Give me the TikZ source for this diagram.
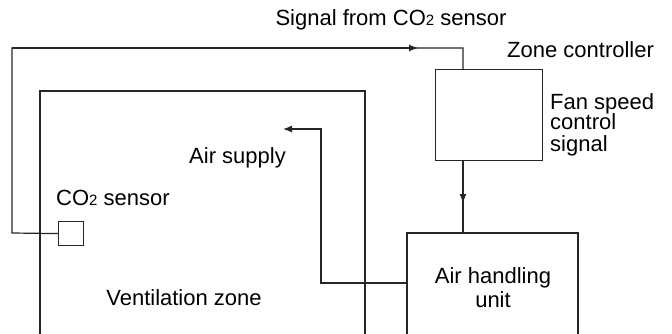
\documentclass[tikz,border=0pt]{standalone}
\usepackage{fontspec}
\setmainfont{Liberation Sans}
\usetikzlibrary{arrows.meta}
\newcommand{\cotwo}{CO{\fontsize{15}{15}\selectfont 2}}
\begin{document}
\begin{tikzpicture}[x=1pt,y=-1pt,
  line/.style={draw=black!85, line width=1.2pt},
  arr/.style={line, -{Latex[length=9pt,width=7pt]}},
  lbl/.style={inner sep=0pt, font=\fontsize{22}{21}\selectfont},
  box/.style={draw=black!85, line width=1.2pt, inner sep=0pt, fill=none}]
\useasboundingbox (0,0) rectangle (672,334);
% boxes
\draw[line] (40,334) |- (365,91) -- (365,334);
\node[box, minimum width=107pt, minimum height=91pt, anchor=north west] (zc) at (435,69) {};
\draw[line] (407,334) |- (578,233) -- (578,334);
\coordinate (ahuT) at (463,233);
\coordinate (ahuL) at (407,283);
\node[box, minimum width=25pt, minimum height=24pt, anchor=north west] (sen) at (58,221) {};
% signal loop
\coordinate (c1) at (12,233);
\coordinate (c2) at (12,48);
\coordinate (c3) at (463,48);
\coordinate (am) at (418,48);
\draw[line] (sen.west) -- (c1) -- (c2) -- (c3) -- (zc.north -| c3);
\draw[arr] (c2) -- (am);
% controller to AHU
\draw[line] (zc.south -| ahuT) -- (ahuT);
\draw[arr] (zc.south -| ahuT) -- (463,203);
% air supply
\coordinate (a1) at (321,283);
\coordinate (a2) at (321,129);
\coordinate (a3) at (283,129);
\draw[arr] (ahuL) -- (a1) -- (a2) -- (a3);
% labels
\node[lbl, anchor=base] (t1) at (391,26) {Signal from \cotwo\ sensor};
\node[lbl, anchor=base west] (t2) at (507,58) {Zone controller};
\node[lbl, anchor=base west, align=left] (t3) at (550,151) {Fan speed\\control\\signal};
\node[lbl, anchor=base east] (t4) at (286,164) {Air supply};
\node[lbl, anchor=base west] (t5) at (56,205) {\cotwo\ sensor};
\node[lbl, anchor=base, align=center, font=\fontsize{22}{24}\selectfont] (t6) at (493,307) {Air handling\\unit};
\node[lbl, anchor=base] (t7) at (184,305) {Ventilation zone};
\end{tikzpicture}
\end{document}
